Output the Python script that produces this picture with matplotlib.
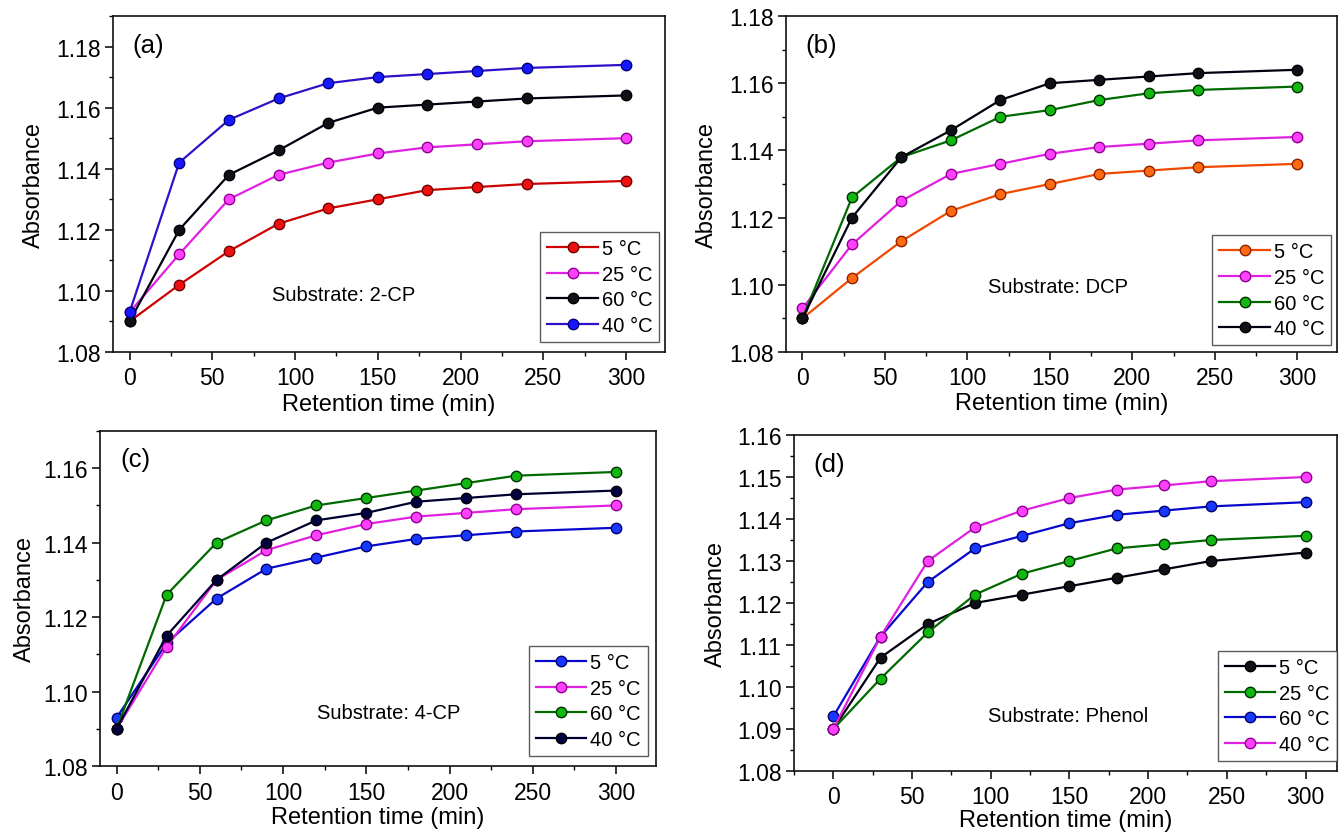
import matplotlib
matplotlib.use("Agg")
import matplotlib.pyplot as plt
from matplotlib.ticker import MultipleLocator, FormatStrFormatter

plt.rcParams['font.family'] = ['Liberation Sans', 'DejaVu Sans']

# ---------------- data ----------------
time_min = [0, 30, 60, 90, 120, 150, 180, 210, 240, 300]
labels = ["5 °C", "25 °C", "60 °C", "40 °C"]

# (a) Substrate: 2-CP
a_5 = [1.090, 1.102, 1.113, 1.122, 1.127, 1.130, 1.133, 1.134, 1.135, 1.136]
a_25 = [1.093, 1.112, 1.130, 1.138, 1.142, 1.145, 1.147, 1.148, 1.149, 1.150]
a_60 = [1.090, 1.120, 1.138, 1.146, 1.155, 1.160, 1.161, 1.162, 1.163, 1.164]
a_40 = [1.093, 1.142, 1.156, 1.163, 1.168, 1.170, 1.171, 1.172, 1.173, 1.174]

# (b) Substrate: DCP
b_5 = [1.090, 1.102, 1.113, 1.122, 1.127, 1.130, 1.133, 1.134, 1.135, 1.136]
b_25 = [1.093, 1.112, 1.125, 1.133, 1.136, 1.139, 1.141, 1.142, 1.143, 1.144]
b_60 = [1.090, 1.126, 1.138, 1.143, 1.150, 1.152, 1.155, 1.157, 1.158, 1.159]
b_40 = [1.090, 1.120, 1.138, 1.146, 1.155, 1.160, 1.161, 1.162, 1.163, 1.164]

# (c) Substrate: 4-CP
c_5 = [1.093, 1.113, 1.125, 1.133, 1.136, 1.139, 1.141, 1.142, 1.143, 1.144]
c_25 = [1.090, 1.112, 1.130, 1.138, 1.142, 1.145, 1.147, 1.148, 1.149, 1.150]
c_60 = [1.090, 1.126, 1.140, 1.146, 1.150, 1.152, 1.154, 1.156, 1.158, 1.159]
c_40 = [1.090, 1.115, 1.130, 1.140, 1.146, 1.148, 1.151, 1.152, 1.153, 1.154]

# (d) Substrate: Phenol
d_5 = [1.090, 1.107, 1.115, 1.120, 1.122, 1.124, 1.126, 1.128, 1.130, 1.132]
d_25 = [1.090, 1.102, 1.113, 1.122, 1.127, 1.130, 1.133, 1.134, 1.135, 1.136]
d_60 = [1.093, 1.112, 1.125, 1.133, 1.136, 1.139, 1.141, 1.142, 1.143, 1.144]
d_40 = [1.090, 1.112, 1.130, 1.138, 1.142, 1.145, 1.147, 1.148, 1.149, 1.150]

# ---------------- styles ----------------
RED = ('#cc0000', '#ee1010', '#700000')
MAG = ('#e020e0', '#ff40ff', '#900090')
BLK = ('#000010', '#101018', '#000000')
VIO = ('#3010c8', '#1818ff', '#000080')
ORA = ('#f04800', '#ff6a10', '#902000')
GRN = ('#006a00', '#10b810', '#003000')
BLU = ('#0808cc', '#1838ff', '#000070')
NAV = ('#000030', '#000040', '#000000')

W, H = 1339, 837
fig = plt.figure(figsize=(W / 100, H / 100), dpi=100)


def px_axes(x0, y0, x1, y1):
    return fig.add_axes([x0 / W, 1 - y1 / H, (x1 - x0) / W, (y1 - y0) / H])


panels = [
    dict(rect=(113, 17, 665, 353), series=[a_5, a_25, a_60, a_40],
         styles=[RED, MAG, BLK, VIO], ylim=(1.08, 1.19), ystep=0.02,
         xlim=(-10, 323.5), tag="(a)", sub="Substrate: 2-CP", subpos=(0.418, 0.17),
         leg=(0.99, 0.03), xlpad=3, ylpad=8, xtpad=4),
    dict(rect=(786, 17, 1337, 353), series=[b_5, b_25, b_60, b_40],
         styles=[ORA, MAG, GRN, BLK], ylim=(1.08, 1.18), ystep=0.02,
         xlim=(-10, 324), tag="(b)", sub="Substrate: DCP", subpos=(0.494, 0.196),
         leg=(0.99, 0.02), xlpad=2, ylpad=8, xtpad=4),
    dict(rect=(100, 432, 656, 767), series=[c_5, c_25, c_60, c_40],
         styles=[BLU, MAG, GRN, NAV], ylim=(1.08, 1.17), ystep=0.02,
         xlim=(-10, 324), tag="(c)", sub="Substrate: 4-CP", subpos=(0.52, 0.16),
         leg=(0.985, 0.03), xlpad=1, ylpad=5, xtpad=5),
    dict(rect=(794, 436, 1337, 772), series=[d_5, d_25, d_60, d_40],
         styles=[BLK, GRN, BLU, MAG], ylim=(1.08, 1.16), ystep=0.01,
         xlim=(-25, 320), tag="(d)", sub="Substrate: Phenol", subpos=(0.504, 0.164),
         leg=(1.0, 0.03), xlpad=1, ylpad=7, xtpad=4),
]

for p in panels:
    ax = px_axes(*p['rect'])
    for ser, lab, (lc, mf, me) in zip(p['series'], labels, p['styles']):
        ax.plot(time_min, ser, '-', color=lc, lw=1.6, marker='o', ms=7.5,
                mfc=mf, mec=me, mew=1.0, label=lab)
    ax.set_xlim(*p['xlim'])
    ax.set_ylim(*p['ylim'])
    ax.xaxis.set_major_locator(MultipleLocator(50))
    ax.xaxis.set_minor_locator(MultipleLocator(25))
    ax.yaxis.set_major_locator(MultipleLocator(p['ystep']))
    ax.yaxis.set_minor_locator(MultipleLocator(p['ystep'] / 2))
    ax.yaxis.set_major_formatter(FormatStrFormatter('%.2f'))
    ax.tick_params(which='major', direction='out', length=6, width=1.1,
                   labelsize=16.5, pad=3, top=False, right=False)
    ax.tick_params(axis='x', which='major', pad=p['xtpad'])
    ax.tick_params(which='minor', direction='out', length=3, width=1.0,
                   top=False, right=False)
    for s in ax.spines.values():
        s.set_linewidth(1.2)
        s.set_color('#111111')
    ax.set_xlabel("Retention time (min)", fontsize=17, labelpad=p['xlpad'])
    ax.set_ylabel("Absorbance", fontsize=17, labelpad=p['ylpad'])
    ax.text(0.036, 0.915, p['tag'], transform=ax.transAxes, fontsize=18.5,
            ha='left', va='center')
    ax.text(p['subpos'][0], p['subpos'][1], p['sub'], transform=ax.transAxes,
            fontsize=14.5, ha='center', va='center')
    leg = ax.legend(loc='lower right', bbox_to_anchor=p['leg'], fontsize=14.5,
                    frameon=True, fancybox=False, edgecolor='#333333',
                    handlelength=2.5, handletextpad=0.2, labelspacing=0.33,
                    borderpad=0.35, borderaxespad=0.0)
    leg.get_frame().set_linewidth(1.0)

fig.savefig("out.png", dpi=100)
